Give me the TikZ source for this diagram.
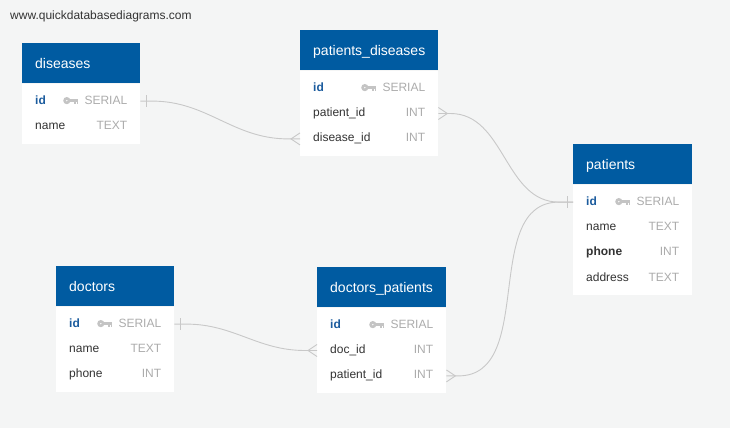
\documentclass[tikz,border=0pt]{standalone}
\usepackage{fontspec}
\setmainfont{Liberation Sans}
\usetikzlibrary{calc, positioning}
\definecolor{headblue}{RGB}{0, 91, 161}
\definecolor{idblue}{RGB}{28, 92, 158}
\definecolor{fieldgray}{RGB}{51, 51, 51}
\definecolor{typegray}{RGB}{172, 172, 172}
\definecolor{keygray}{RGB}{196, 196, 196}
\definecolor{linkgray}{RGB}{200, 200, 200}
\definecolor{canvas}{RGB}{244, 245, 245}

\begin{document}
\begin{tikzpicture}[x=1pt, y=-1pt,
  tblhead/.style={anchor=north west, fill=headblue, text=white, text width=#1,
    inner xsep=13pt, inner ysep=0pt, minimum height=40pt, align=left,
    text height=12pt, text depth=2pt, font=\fontsize{14}{16}\selectfont},
  tblbody/.style={fill=white, minimum width=#1, inner sep=0pt},
  tblrow/.style={text width=#1, inner xsep=13pt, inner ysep=0pt, minimum height=25pt,
    align=left, text height=9pt, text depth=3pt, text=fieldgray,
    font=\fontsize{12}{14}\selectfont},
  keyglyph/.pic={
    \draw[keygray, line width=2.6pt] (-11.5,-0.5) circle (2.2pt);
    \fill[keygray] (-9,-2) rectangle (0,0.8);
    \fill[keygray] (-4.5,0.8) rectangle (-2.8,3);
    \fill[keygray] (-1.7,0.8) rectangle (0,3);
  },
  crowfoot/.pic={\draw[relline] (0,-6) -- (-9,0) -- (0,6);},
  barmark/.pic={\draw[relline] (6,-6) -- (6,6);}
]

\tikzstyle{tbltype} = [inner sep=0pt, text=typegray, text height=9pt, text depth=3pt, font=\fontsize{12}{14}\selectfont]
\tikzstyle{tblid} = [text=idblue, font=\fontsize{12}{14}\selectfont\bfseries]
\tikzstyle{tblbold} = [font=\fontsize{12}{14}\selectfont\bfseries]
\tikzstyle{relline} = [draw=linkgray, line width=0.9pt]

\fill[canvas] (0,0) rectangle (730,428);
\useasboundingbox (0,0) rectangle (730,428);

\node[anchor=west, inner sep=0pt, text=fieldgray, font=\fontsize{12}{14}\selectfont] (site) at (10,16) {www.quickdatabasediagrams.com};

% diseases
\node[tblhead=92pt] (dis) at (22,43) {diseases};
\node[tblbody=118pt, minimum height=60pt, below=0pt of dis] (disBody) {};
\node[tblrow=92pt, tblid, below=5pt of dis] (disId) {id};
\node[tbltype, left=13pt of disId.east] (disIdT) {SERIAL};
\pic at ($(disIdT.west)+(-6,0)$) {keyglyph};
\node[tblrow=92pt, below=0pt of disId] (disName) {name};
\node[tbltype, left=13pt of disName.east] (disNameT) {TEXT};

% patients_diseases
\node[tblhead=112pt] (pd) at (300,30) {patients\_diseases};
\node[tblbody=138pt, minimum height=85pt, below=0pt of pd] (pdBody) {};
\node[tblrow=112pt, tblid, below=5pt of pd] (pdId) {id};
\node[tbltype, left=13pt of pdId.east] (pdIdT) {SERIAL};
\pic at ($(pdIdT.west)+(-6,0)$) {keyglyph};
\node[tblrow=112pt, below=0pt of pdId] (pdPat) {patient\_id};
\node[tbltype, left=13pt of pdPat.east] (pdPatT) {INT};
\node[tblrow=112pt, below=0pt of pdPat] (pdDis) {disease\_id};
\node[tbltype, left=13pt of pdDis.east] (pdDisT) {INT};

% patients
\node[tblhead=93pt] (pat) at (573,144) {patients};
\node[tblbody=119pt, minimum height=110pt, below=0pt of pat] (patBody) {};
\node[tblrow=93pt, tblid, below=5pt of pat] (patId) {id};
\node[tbltype, left=13pt of patId.east] (patIdT) {SERIAL};
\pic at ($(patIdT.west)+(-6,0)$) {keyglyph};
\node[tblrow=93pt, below=0pt of patId] (patName) {name};
\node[tbltype, left=13pt of patName.east] (patNameT) {TEXT};
\node[tblrow=93pt, tblbold, below=0pt of patName] (patPhone) {phone};
\node[tbltype, left=13pt of patPhone.east] (patPhoneT) {INT};
\node[tblrow=93pt, below=0pt of patPhone] (patAddr) {address};
\node[tbltype, left=13pt of patAddr.east] (patAddrT) {TEXT};

% doctors
\node[tblhead=92pt] (doc) at (56,266) {doctors};
\node[tblbody=118pt, minimum height=85pt, below=0pt of doc] (docBody) {};
\node[tblrow=92pt, tblid, below=5pt of doc] (docId) {id};
\node[tbltype, left=13pt of docId.east] (docIdT) {SERIAL};
\pic at ($(docIdT.west)+(-6,0)$) {keyglyph};
\node[tblrow=92pt, below=0pt of docId] (docName) {name};
\node[tbltype, left=13pt of docName.east] (docNameT) {TEXT};
\node[tblrow=92pt, below=0pt of docName] (docPhone) {phone};
\node[tbltype, left=13pt of docPhone.east] (docPhoneT) {INT};

% doctors_patients
\node[tblhead=103pt] (dp) at (317,267) {doctors\_patients};
\node[tblbody=129pt, minimum height=85pt, below=0pt of dp] (dpBody) {};
\node[tblrow=103pt, tblid, below=5pt of dp] (dpId) {id};
\node[tbltype, left=13pt of dpId.east] (dpIdT) {SERIAL};
\pic at ($(dpIdT.west)+(-6,0)$) {keyglyph};
\node[tblrow=103pt, below=0pt of dpId] (dpDoc) {doc\_id};
\node[tbltype, left=13pt of dpDoc.east] (dpDocT) {INT};
\node[tblrow=103pt, below=0pt of dpDoc] (dpPat) {patient\_id};
\node[tbltype, left=13pt of dpPat.east] (dpPatT) {INT};

% relations
\draw[relline] (disId.east) -- ++(12,0) to[out=0, in=180] ($(pdDis.west)+(-12,0)$) -- (pdDis.west);
\draw[relline] (pdPat.east) -- ++(12,0) to[out=0, in=180] ($(patId.west)+(-14,0)$) -- (patId.west);
\draw[relline] (docId.east) -- ++(12,0) to[out=0, in=180] ($(dpDoc.west)+(-12,0)$) -- (dpDoc.west);
\draw[relline] (dpPat.east) -- ++(12,0) to[out=0, in=180] ($(patId.west)+(-14,0)$) -- (patId.west);

\pic at (disId.east) {barmark};
\pic at (pdDis.west) {crowfoot};
\pic[xscale=-1] at (pdPat.east) {crowfoot};
\pic[xscale=-1] at (patId.west) {barmark};
\pic at (docId.east) {barmark};
\pic at (dpDoc.west) {crowfoot};
\pic[xscale=-1] at (dpPat.east) {crowfoot};

\end{tikzpicture}
\end{document}
